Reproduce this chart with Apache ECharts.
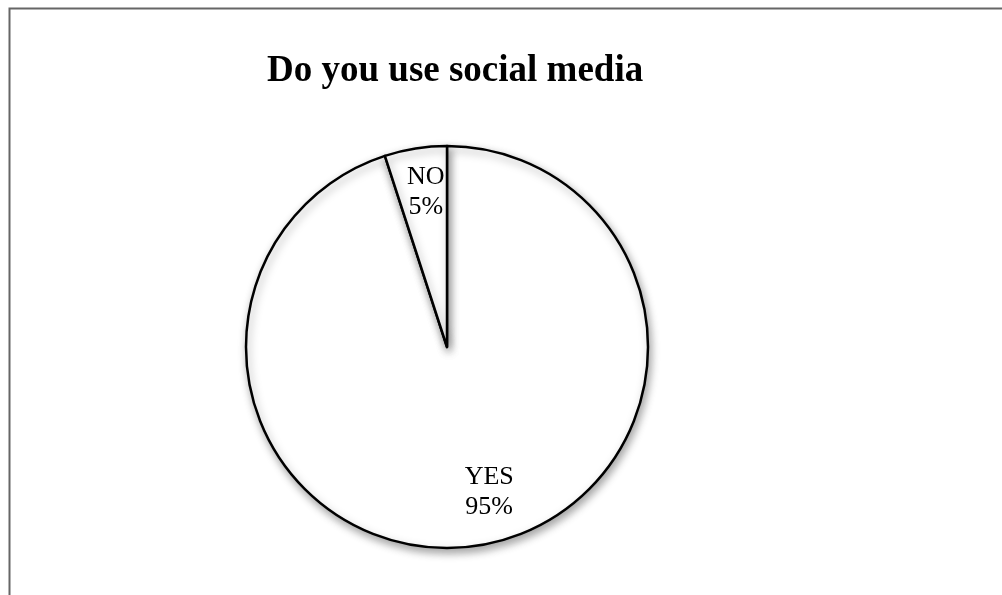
<!DOCTYPE html>
<html>
<head>
<meta charset="utf-8">
<script src="https://cdn.jsdelivr.net/npm/echarts@6/dist/echarts.min.js"></script>
<style>
  html, body { margin: 0; padding: 0; background: #fff; }
  #chart { width: 1002px; height: 595px; }
</style>
</head>
<body>
<div id="chart"></div>
<script>
// Survey answers
const categories = ['YES', 'NO'];
const percents = [95, 5];
const titleText = 'Do you use social media';

// Label nudges (dx, dy) relative to the slice's default inside position
const labelNudge = [[26, 43], [-5, -53]];

const chart = echarts.init(document.getElementById('chart'));

const serif = '"Liberation Serif", "Times New Roman", serif';

chart.setOption({
  backgroundColor: '#ffffff',
  animation: false,
  title: {
    text: titleText,
    left: 262,
    top: 48,
    textStyle: { fontFamily: serif, fontWeight: 'bold', fontSize: 37, color: '#000' }
  },
  graphic: [{
    type: 'rect',
    shape: { x: 9.5, y: 8.5, width: 1100, height: 700 },
    style: { fill: 'none', stroke: '#666', lineWidth: 2 },
    z: -1
  }],
  series: [{
    type: 'pie',
    center: [447, 347],
    radius: [0, 201],
    startAngle: 90,
    clockwise: true,
    avoidLabelOverlap: false,
    itemStyle: {
      color: '#ffffff',
      borderColor: '#000000',
      borderWidth: 2.5,
      shadowBlur: 8,
      shadowOffsetX: 2,
      shadowOffsetY: 4,
      shadowColor: 'rgba(0,0,0,0.35)'
    },
    emphasis: { disabled: true },
    label: {
      show: true,
      position: 'inside',
      formatter: p => p.name + '\n' + p.value + '%',
      fontFamily: serif,
      fontSize: 26,
      lineHeight: 30,
      color: '#000'
    },
    labelLine: { show: false },
    labelLayout: params => ({ dx: labelNudge[params.dataIndex][0], dy: labelNudge[params.dataIndex][1] }),
    data: categories.map((c, i) => ({ name: c, value: percents[i] }))
  }]
});
</script>
</body>
</html>
